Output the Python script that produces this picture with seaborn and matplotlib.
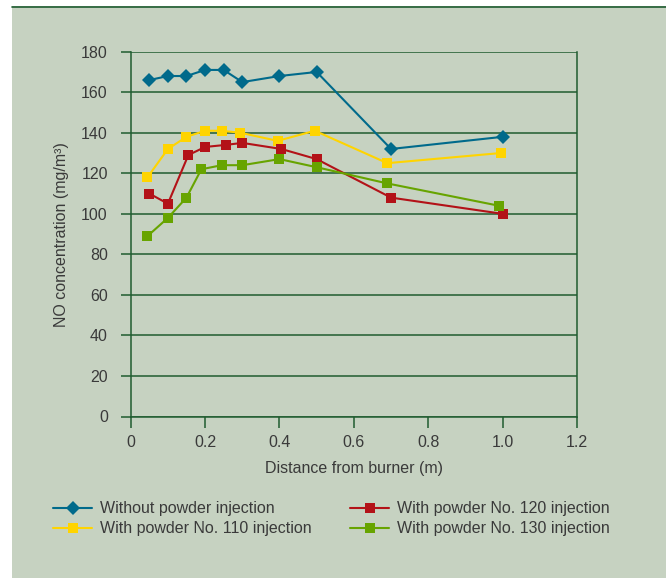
import matplotlib
matplotlib.use("Agg")
import matplotlib.pyplot as plt
import seaborn as sns
import numpy as np
import pandas as pd
from matplotlib.patches import Rectangle
from matplotlib.lines import Line2D

# Data
x_none = [0.05, 0.10, 0.15, 0.20, 0.25, 0.30, 0.40, 0.50, 0.70, 1.00]
y_none = [166, 168, 168, 171, 171, 165, 168, 170, 132, 138]

x_110 = [0.045, 0.10, 0.15, 0.20, 0.245, 0.295, 0.395, 0.495, 0.69, 0.995]
y_110 = [118, 132, 138, 141, 141, 140, 136, 141, 125, 130]

x_120 = [0.05, 0.10, 0.155, 0.20, 0.255, 0.30, 0.405, 0.50, 0.70, 1.00]
y_120 = [110, 105, 129, 133, 134, 135, 132, 127, 108, 100]

x_130 = [0.045, 0.10, 0.15, 0.19, 0.245, 0.30, 0.40, 0.50, 0.69, 0.99]
y_130 = [89, 98, 108, 122, 124, 124, 127, 123, 115, 104]

labels = ["Without powder injection", "With powder No. 110 injection",
          "With powder No. 120 injection", "With powder No. 130 injection"]
colors = ["#006A8B", "#FFD400", "#B31218", "#67A400"]
markers = ["D", "s", "s", "s"]
msizes = [6.8, 7.6, 7.6, 7.6]

x_ticks = [0, 0.2, 0.4, 0.6, 0.8, 1.0, 1.2]
x_ticklabels = ["0", "0.2", "0.4", "0.6", "0.8", "1.0", "1.2"]
y_ticks = list(range(0, 181, 20))

BG = "#C6D2C1"
GRID = "#1F5C30"
TXT = "#3A3A3A"
FS = 11.5

sns.set_theme(style="white")
plt.rcParams['font.family'] = ['Liberation Sans', 'DejaVu Sans']

W, H = 666, 578
fig = plt.figure(figsize=(W / 100, H / 100), dpi=100)
fig.patch.set_facecolor("white")
fig.add_artist(Rectangle((12 / W, 0), 1 - 12 / W, 1 - 6 / H, transform=fig.transFigure,
                         facecolor=BG, edgecolor="none", zorder=-10))
fig.add_artist(Line2D([12 / W, 1], [1 - 6.5 / H, 1 - 6.5 / H], transform=fig.transFigure,
                      color=GRID, lw=1.2, zorder=-9))

ax = fig.add_axes([130.7 / W, 1 - 416.5 / H, (577 - 130.7) / W, (416.5 - 51.7) / H])
ax.set_facecolor(BG)

series = [(x_none, y_none), (x_110, y_110), (x_120, y_120), (x_130, y_130)]
for (xs, ys), lab, c, m, ms in zip(series, labels, colors, markers, msizes):
    df = pd.DataFrame({"x": xs, "y": ys})
    sns.lineplot(data=df, x="x", y="y", ax=ax, color=c, marker=m, markersize=ms,
                 markeredgewidth=0, linewidth=1.5, label=lab, sort=False, legend=False)

ax.set_xlim(0, 1.2)
ax.set_ylim(0, 180)
ax.set_xticks(x_ticks)
ax.set_xticklabels(x_ticklabels)
ax.set_yticks(y_ticks)
ax.yaxis.grid(True, color=GRID, lw=1.1)
ax.xaxis.grid(False)
ax.set_axisbelow(True)
for s in ["left", "bottom", "right"]:
    ax.spines[s].set_visible(True)
    ax.spines[s].set_color(GRID)
    ax.spines[s].set_linewidth(1.1)
ax.spines["top"].set_visible(False)
ax.tick_params(axis="both", which="both", direction="out", color=GRID, width=1.1,
               labelcolor=TXT, labelsize=FS)
ax.tick_params(axis="y", length=7.5, pad=9, left=True)
ax.tick_params(axis="x", length=8, pad=5, bottom=True)

ax.set_xlabel("Distance from burner (m)", color=TXT, fontsize=FS, labelpad=8)
ax.set_ylabel("NO concentration (mg/m³)", color=TXT, fontsize=FS, labelpad=9)

handles = [Line2D([], [], color=c, marker=m, markersize=ms, markeredgewidth=0, lw=1.5)
           for c, m, ms in zip(colors, markers, msizes)]
leg = fig.legend(handles, labels, ncol=2, loc="upper left",
                 bbox_to_anchor=(39 / W, 1 - 487 / H), frameon=False,
                 fontsize=FS, handlelength=2.4, handletextpad=0.5,
                 columnspacing=2.45, labelspacing=0.3, labelcolor=TXT)

fig.savefig("out.png", dpi=100, facecolor=fig.get_facecolor())
